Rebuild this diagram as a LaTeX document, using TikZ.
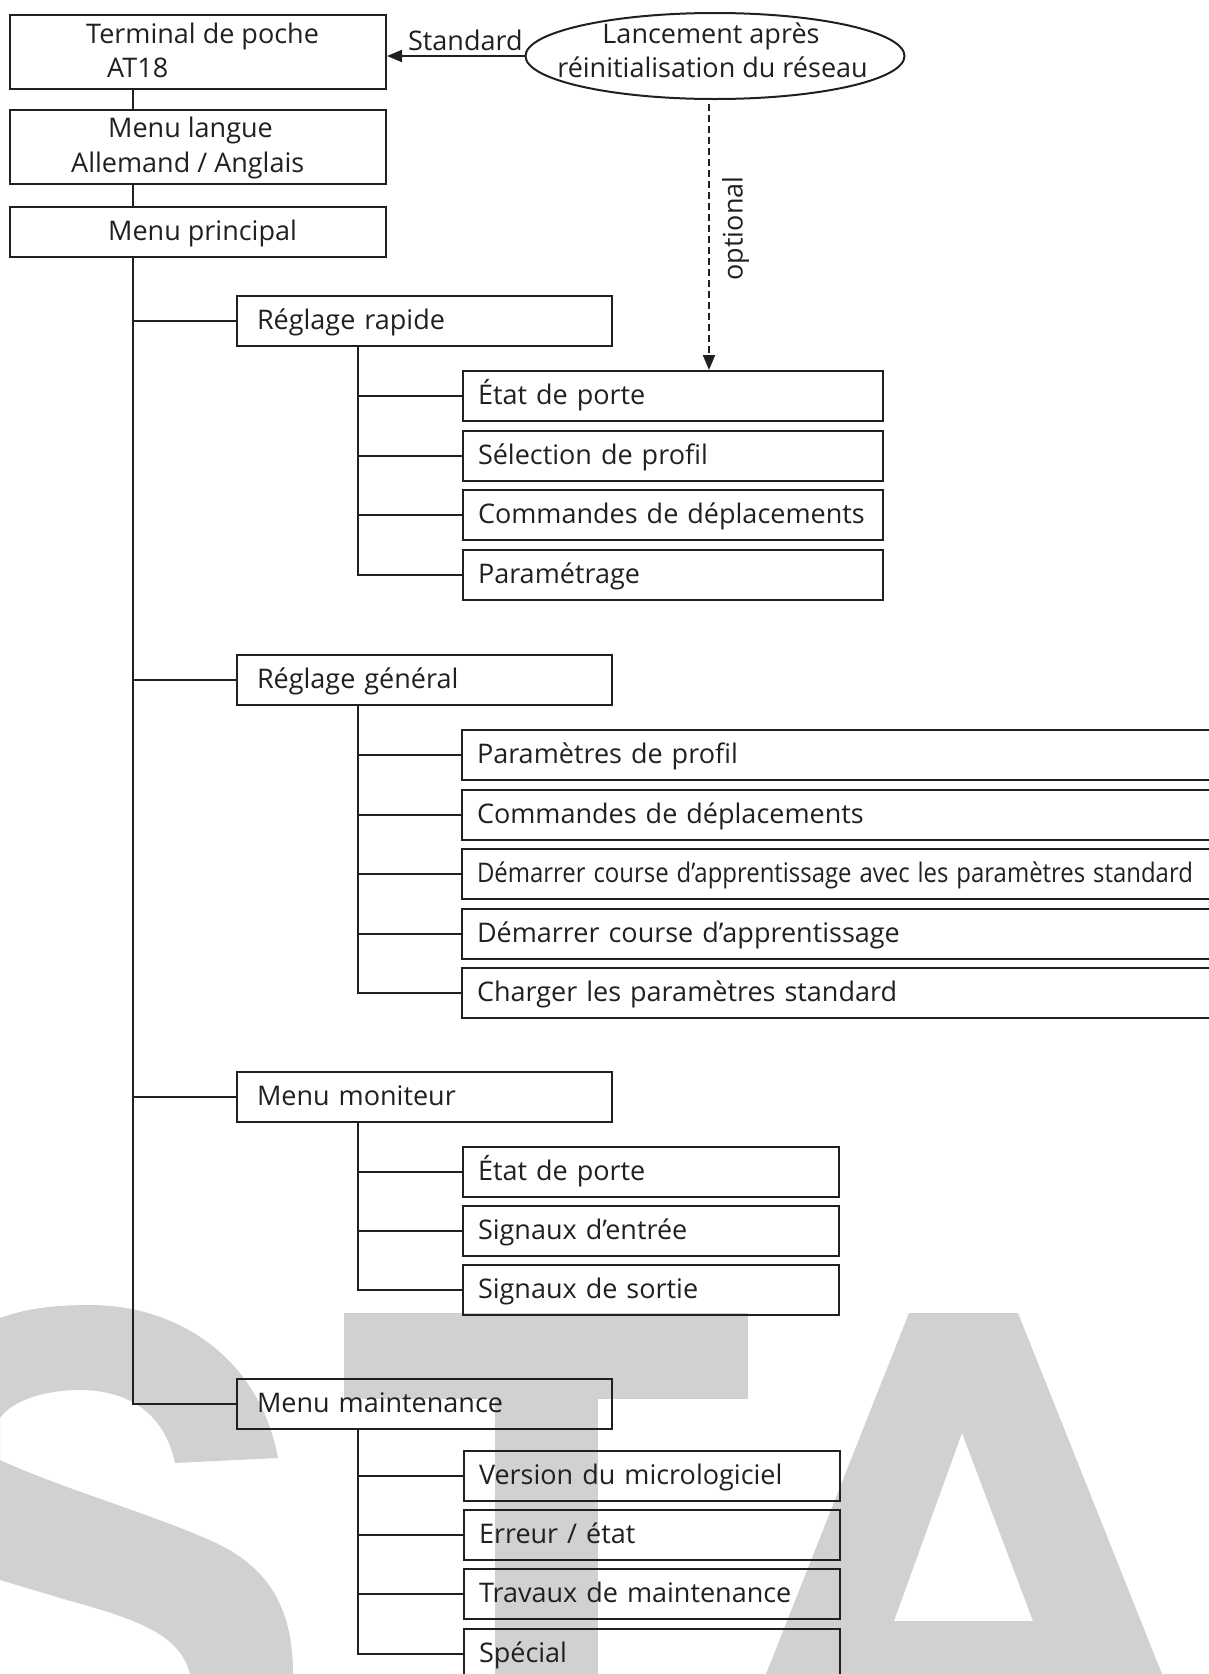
\documentclass[tikz,border=0pt]{standalone}
\usepackage{fontspec}
\setmainfont{Open Sans}
\usetikzlibrary{arrows.meta,calc,shapes.geometric}
\definecolor{ink}{RGB}{35,31,32}
\definecolor{wm}{RGB}{209,209,209}
\begin{document}
\begin{tikzpicture}[x=1pt,y=-1pt,
  every node/.append style={font=\fontsize{27}{34}\selectfont, text=ink},
  conn/.style={draw=ink, line width=2pt},
  plain/.style={draw=ink, line width=2pt, anchor=north west, inner sep=0pt},
  box/.style={draw=ink, line width=2pt, anchor=north west, minimum height=50pt,
    inner ysep=0pt, align=left, text height=21pt, text depth=4pt},
  lvl/.style={box, inner xsep=20pt, minimum width=375pt, text width=335pt},
  subA/.style={box, inner xsep=15pt, minimum width=420pt, text width=390pt},
  subB/.style={box, inner xsep=15pt, minimum width=800pt, text width=770pt},
  subC/.style={box, inner xsep=15pt, minimum width=376pt, text width=346pt},
  txt/.style={inner sep=0pt},
  tip/.style={-{Triangle[length=15pt,width=12pt]}}
]
\useasboundingbox (0,0) rectangle (1209,1674);
\clip (0,0) rectangle (1209,1674);

% watermark
\fill[wm] (0,1318) .. controls (30,1307) and (60,1305) .. (90,1305)
  .. controls (180,1305) and (260,1360) .. (278,1458) -- (175,1463)
  .. controls (165,1415) and (130,1390) .. (80,1390)
  .. controls (40,1390) and (10,1403) .. (0,1418) -- (0,1460)
  .. controls (60,1488) and (170,1520) .. (220,1545)
  .. controls (270,1570) and (293,1610) .. (293,1674) -- (190,1674)
  .. controls (180,1635) and (140,1620) .. (67,1600) -- (0,1580) -- cycle;
\fill[wm] (344,1313) rectangle (748,1399);
\fill[wm] (495,1399) rectangle (598,1674);
\fill[wm, even odd rule] (766,1674) -- (909,1313) -- (1018,1313) -- (1162,1674) -- cycle
  (962,1433) -- (894,1621) -- (1033,1621) -- cycle;

% top boxes
\node[plain, minimum width=376pt, minimum height=74pt] (term) at (9,14) {};
\node[txt, anchor=base west] at (86,43) {Terminal de poche};
\node[txt, anchor=base west] at (107,77) {AT18};
\node[plain, minimum width=376pt, minimum height=74pt] (lang) at (9,109) {};
\node[txt, anchor=base west] at (108,137) {Menu langue};
\node[txt, anchor=base west] at (71,172) {Allemand / Anglais};
\node[plain, minimum width=376pt, minimum height=50pt] (princ) at (9,206) {};
\node[txt, anchor=base west] at (108,240) {Menu principal};

% ellipse
\node[draw=ink, line width=2pt, ellipse, minimum width=379pt, minimum height=86pt, inner sep=0pt] (launch) at (715,56) {};
\node[txt, anchor=base] at (711,43) {Lancement après};
\node[txt, anchor=base] at (712.5,77) {réinitialisation du réseau};

% level 1
\node[lvl] (rapide) at (236,295) {Réglage rapide};
\node[lvl] (general) at (236,654) {Réglage général};
\node[lvl] (monit) at (236,1070.5) {Menu moniteur};
\node[lvl] (maint) at (236,1378) {Menu maintenance};

% level 2
\node[subA] (r1) at (462,370) {État de porte};
\node[subA] (r2) at (462,429.5) {Sélection de profil};
\node[subA] (r3) at (462,489) {Commandes de déplacements};
\node[subA] (r4) at (462,548.5) {Paramétrage};

\node[subB] (g1) at (461,729) {Paramètres de profil};
\node[subB] (g2) at (461,788.5) {Commandes de déplacements};
\node[subB] (g3) at (461,848) {\resizebox{716pt}{\height}{Démarrer course d’apprentissage avec les paramètres standard}};
\node[subB] (g4) at (461,907.5) {Démarrer course d’apprentissage};
\node[subB] (g5) at (461,967) {Charger les paramètres standard};

\node[subC] (m1) at (462,1146) {État de porte};
\node[subC] (m2) at (462,1205) {Signaux d’entrée};
\node[subC] (m3) at (462,1264) {Signaux de sortie};

\node[subC] (t1) at (463,1449.5) {Version du micrologiciel};
\node[subC] (t2) at (463,1508.5) {Erreur / état};
\node[subC] (t3) at (463,1568) {Travaux de maintenance};
\node[subC] (t4) at (463,1627.5) {Spécial};

% connectors
\draw[conn] ($(term.south west)+(124,0)$) -- ($(lang.north west)+(124,0)$);
\draw[conn] ($(lang.south west)+(124,0)$) -- ($(princ.north west)+(124,0)$);
\coordinate (trunk) at ($(princ.south west)+(124,0)$);
\draw[conn] (trunk) |- (maint.west);
\foreach \n in {rapide,general,monit} \draw[conn] (trunk |- \n.west) -- (\n.west);

\coordinate (sa) at ($(rapide.south west)+(122,0)$);
\draw[conn] (sa) |- (r4.west);
\foreach \n in {r1,r2,r3} \draw[conn] (sa |- \n.west) -- (\n.west);
\coordinate (sb) at ($(general.south west)+(122,0)$);
\draw[conn] (sb) |- (g5.west);
\foreach \n in {g1,g2,g3,g4} \draw[conn] (sb |- \n.west) -- (\n.west);
\coordinate (sc) at ($(monit.south west)+(122,0)$);
\draw[conn] (sc) |- (m3.west);
\foreach \n in {m1,m2} \draw[conn] (sc |- \n.west) -- (\n.west);
\coordinate (sd) at ($(maint.south west)+(122,0)$);
\draw[conn] (sd) |- (t4.west);
\foreach \n in {t1,t2,t3} \draw[conn] (sd |- \n.west) -- (\n.west);

% arrows
\draw[conn, tip] (launch.west) -- (launch.west -| term.east)
  node[pos=0.43, anchor=base, yshift=6pt, inner sep=0pt] {Standard};
\coordinate (dtop) at ($(launch.south)+(-6,4)$);
\draw[conn, dash pattern=on 7pt off 4pt, tip] (dtop) -- (dtop |- r1.north)
  node[pos=0.468, rotate=90, anchor=north, inner xsep=0pt, inner ysep=12pt] {optional};
\end{tikzpicture}
\end{document}
